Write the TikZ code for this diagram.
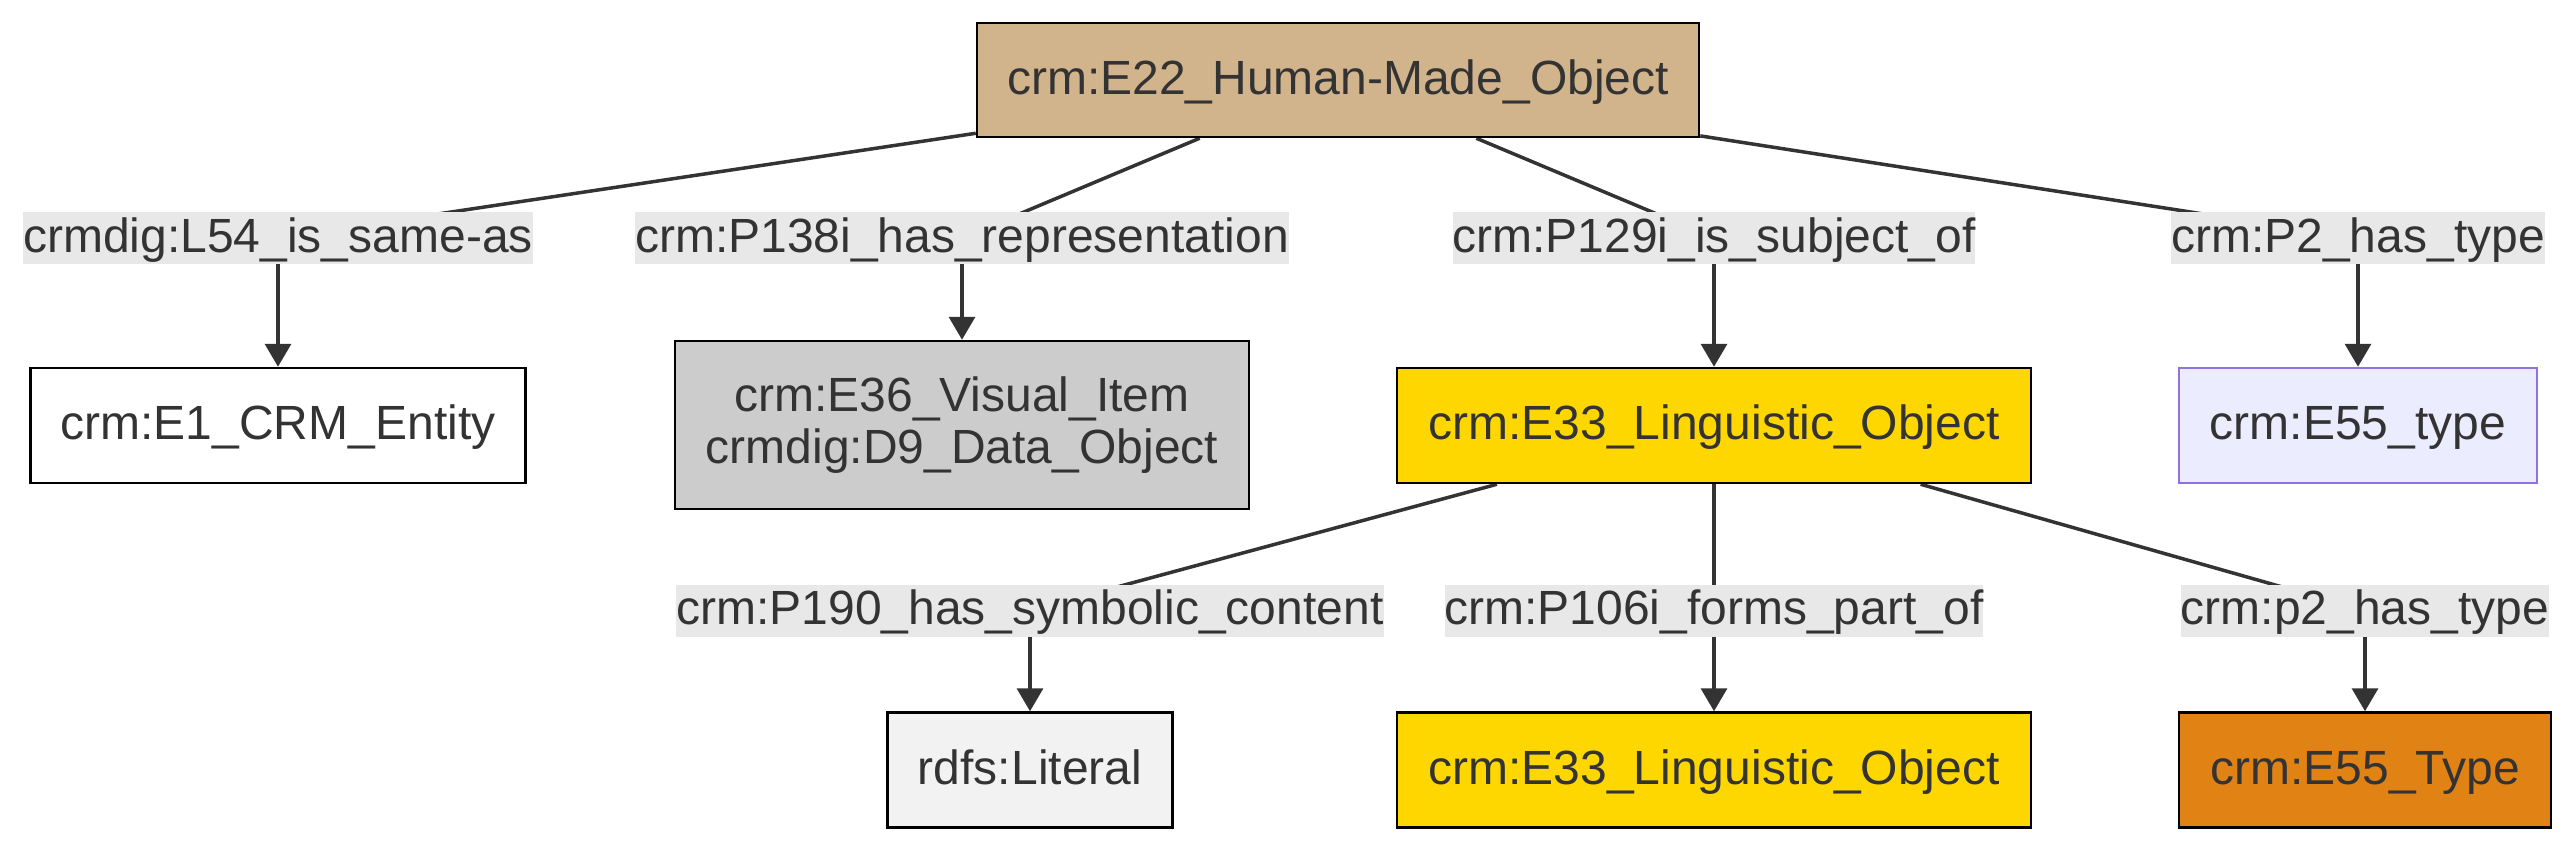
\documentclass[tikz,border=0pt]{standalone}
\usepackage{fontspec}
\setmainfont{Liberation Sans}
\usetikzlibrary{arrows.meta,backgrounds}
\definecolor{txt}{HTML}{333333}
\definecolor{lblbg}{HTML}{E8E8E8}
\definecolor{tan}{HTML}{D2B48C}
\definecolor{grayfill}{HTML}{CCCCCC}
\definecolor{gold}{HTML}{FFD700}
\definecolor{lavender}{HTML}{ECECFF}
\definecolor{lavborder}{HTML}{9370DB}
\definecolor{litfill}{HTML}{F2F2F2}
\definecolor{orangefill}{HTML}{E08214}
\tikzset{
  box/.style={rectangle, draw=black, line width=2.5pt, inner sep=0pt, text=txt,
    minimum height=115pt, align=center, text height=37pt, text depth=9pt,
    font=\fontsize{48}{52.5}\selectfont},
  lbl/.style={rectangle, fill=lblbg, inner xsep=0pt, inner ysep=0pt, text=txt,
    minimum height=52pt, text height=37pt, text depth=9pt,
    font=\fontsize{48}{52.5}\selectfont},
  edge/.style={draw=txt, line width=3.5pt},
  arr/.style={draw=txt, line width=3.5pt, -{Triangle[length=23pt,width=26pt]}}
}
\begin{document}
\begin{tikzpicture}[x=1pt,y=-1pt]
\path[use as bounding box] (0,0) rectangle (2574,852);
% nodes
\node[box, fill=tan, minimum width=722pt, minimum height=114pt] (E22) at (1338,80) {crm:E22\_Human-Made\_Object};
\node[box, fill=white, minimum width=495pt] (E1) at (278,425.5) {crm:E1\_CRM\_Entity};
\node[box, fill=grayfill, minimum width=574pt, minimum height=168pt, text height=, text depth=] (E36) at (962,425) {crm:E36\_Visual\_Item\\crmdig:D9\_Data\_Object};
\node[box, fill=gold, minimum width=634pt] (E33) at (1714,425.5) {crm:E33\_Linguistic\_Object};
\node[box, fill=lavender, draw=lavborder, minimum width=358pt] (E55a) at (2358,425.5) {crm:E55\_type};
\node[box, fill=litfill, minimum width=285pt] (Lit) at (1030,770) {rdfs:Literal};
\node[box, fill=gold, minimum width=634pt] (E33b) at (1714,770) {crm:E33\_Linguistic\_Object};
\node[box, fill=orangefill, minimum width=372pt] (E55b) at (2365,770) {crm:E55\_Type};
% labels
\node[lbl] (L54) at (278,238) {crmdig:L54\_is\_same-as};
\node[lbl] (P138) at (962,238) {crm:P138i\_has\_representation};
\node[lbl] (P129) at (1714,238) {crm:P129i\_is\_subject\_of};
\node[lbl] (P2) at (2358,238) {crm:P2\_has\_type};
\node[lbl] (P190) at (1030,610.5) {crm:P190\_has\_symbolic\_content};
\node[lbl] (P106) at (1714,610.5) {crm:P106i\_forms\_part\_of};
\node[lbl] (p2) at (2365,610.5) {crm:p2\_has\_type};
% edges
\begin{scope}[on background layer]
\draw[edge] (E22) -- (L54.center);
\draw[edge] (E22) -- (P138.center);
\draw[edge] (E22) -- (P129.center);
\draw[edge] (E22) -- (P2.center);
\draw[edge] (E33) -- (P190.center);
\draw[edge] (E33) -- (P106.center);
\draw[edge] (E33) -- (p2.center);
\end{scope}
\draw[arr] (L54) -- (E1);
\draw[arr] (P138) -- (E36);
\draw[arr] (P129) -- (E33);
\draw[arr] (P2) -- (E55a);
\draw[arr] (P190) -- (Lit);
\draw[arr] (P106) -- (E33b);
\draw[arr] (p2) -- (E55b);
\end{tikzpicture}
\end{document}
